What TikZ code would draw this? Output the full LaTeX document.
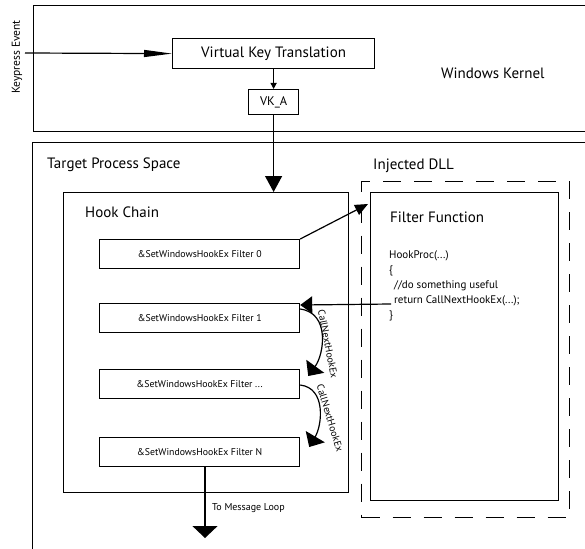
\documentclass[tikz,border=0pt]{standalone}
\usepackage{fontspec}
\setmainfont{PT Sans}
\usetikzlibrary{arrows.meta}
\begin{document}
\begin{tikzpicture}[x=1pt,y=-1pt,
  box/.style={draw, line width=1.2pt, inner sep=0pt, anchor=north west},
  filt/.style={box, minimum width=200pt, minimum height=29pt, font=\fontsize{9.8}{12}\selectfont},
  lbl/.style={inner sep=0pt, anchor=west, font=\fontsize{15}{17}\selectfont},
  small/.style={inner sep=0pt, font=\fontsize{10}{12}\selectfont},
  conn/.style={line width=1.2pt},
]
\useasboundingbox (0,0) rectangle (585,548);
% containers
\node[box, minimum width=570pt, minimum height=126pt] (kernel) at (33,5) {};
\node[box, minimum width=570pt, minimum height=420pt] (target) at (32,142) {};
\node[box, minimum width=285pt, minimum height=300pt] (chain) at (63,192) {};
\node[box, minimum width=188pt, minimum height=308pt] (ffbox) at (370,192) {};
\node[draw, dash pattern=on 18pt off 13pt, line width=1.3pt, inner sep=0pt, anchor=north west,
      minimum width=208pt, minimum height=336pt] (dll) at (361,181) {};
% kernel nodes
\node[box, minimum width=202pt, minimum height=30pt, font=\fontsize{15}{17}\selectfont] (vkt) at (172,38) {Virtual Key Translation};
\node[box, minimum width=50pt, minimum height=25pt, font=\fontsize{12.5}{14}\selectfont] (vka) at (248,89) {VK\_A};
\node[lbl] (wk) at (441,73) {Windows Kernel};
\node[inner sep=0pt, rotate=90, font=\fontsize{11.5}{14}\selectfont] (kpe) at (17,57) {Keypress Event};
% labels
\node[lbl] (tps) at (47,165) {Target Process Space};
\node[lbl] (hc) at (85,212) {Hook Chain};
\node[lbl] (idll) at (373,166) {Injected DLL};
\node[lbl] (ffl) at (390,217) {Filter Function};
\node[inner sep=0pt, anchor=north west, align=left, font=\fontsize{11}{15.2}\selectfont] (code) at (389,250)
  {HookProc(...)\\\{\\\hspace*{5pt}//do something useful\\\hspace*{5pt}return CallNextHookEx(...);\\\}};
% filters
\node[filt] (f0) at (99,239) {\&SetWindowsHookEx Filter 0};
\node[filt] (f1) at (99,303) {\&SetWindowsHookEx Filter 1};
\node[filt] (fd) at (99,369) {\&SetWindowsHookEx Filter ...};
\node[filt] (fN) at (99,437) {\&SetWindowsHookEx Filter N};
% connectors
\coordinate (kp) at (25,53);
\draw[conn, -{Triangle[length=28pt,width=7pt]}] (kp) -- (vkt.west);
\draw[conn, -{Triangle[length=6pt,width=6pt]}] (vkt.south) -- (vka.north);
\draw[conn, -{Triangle[length=16pt,width=17pt]}] (vka.south) -- (vka.south |- chain.north);
\coordinate (ffin) at (368,204);
\draw[conn, -{Triangle[length=13pt,width=11pt]}] (f0.north east) -- (ffin);
\coordinate (ret) at (391,304);
\draw[conn, -{Triangle[length=12pt,width=17pt]}] (ret) -- ([yshift=-2pt]f1.north east);
\draw[conn, -{Triangle[length=12pt,width=22pt]}] ([yshift=-6pt]f1.north east)
  .. controls +(30,4) and +(16,-22) .. ([xshift=8pt,yshift=-7pt]fd.north east);
\draw[conn, -{Triangle[length=12pt,width=22pt]}] ([yshift=-16pt]fd.north east)
  .. controls +(26,3) and +(13,-22) .. ([xshift=9pt,yshift=-10pt]fN.north east);
\node[small, rotate=-79] (cn1) at (328,344) {CallNextHookEx};
\node[small, rotate=-73] (cn2) at (330,418) {CallNextHookEx};
\coordinate (ml) at (205,538);
\draw[conn, -{Triangle[length=12pt,width=25pt]}] (ml |- fN.south) -- (ml);
\node[small, anchor=west] (mll) at (212,508) {To Message Loop};
\end{tikzpicture}
\end{document}
